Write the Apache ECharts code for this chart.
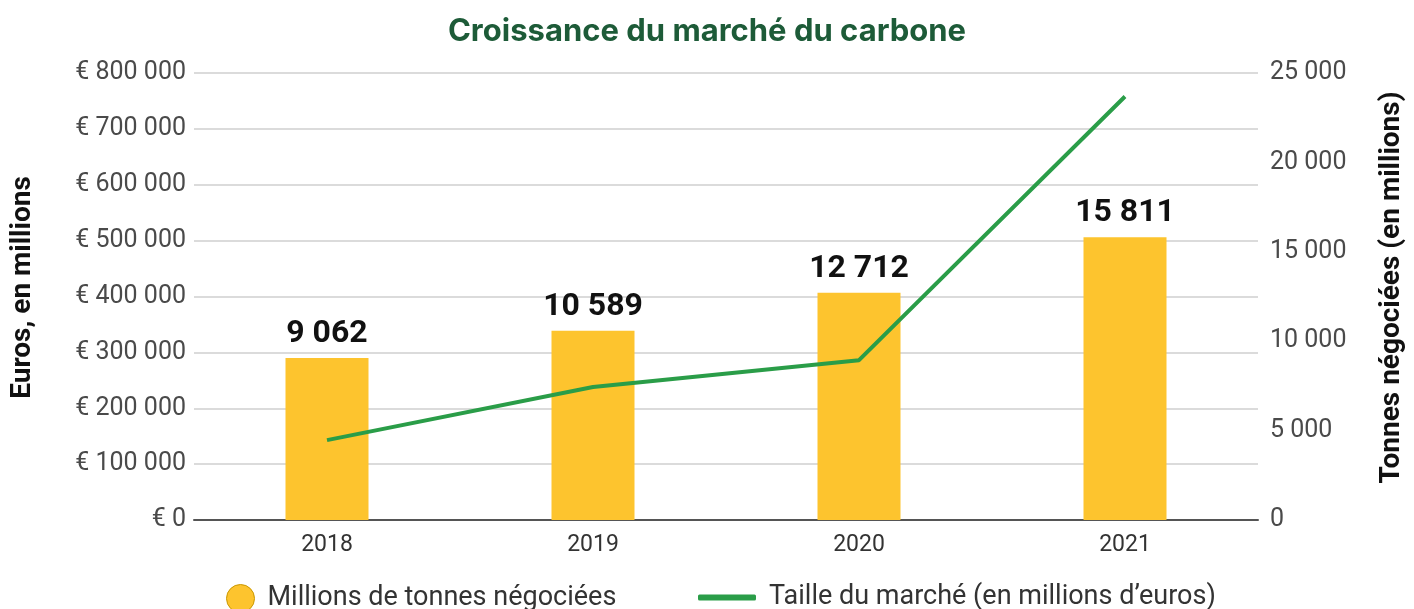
<!DOCTYPE html>
<html>
<head>
<meta charset="utf-8">
<script src="https://cdn.jsdelivr.net/npm/echarts@6/dist/echarts.min.js"></script>
<style>
  html, body { margin: 0; padding: 0; background: #fff; }
  #chart { width: 1414px; height: 609px; }
</style>
</head>
<body>
<div id="chart"></div>
<script>
// données
const annees = ['2018', '2019', '2020', '2021'];
const tonnes = [9062, 10589, 12712, 15811];          // millions de tonnes négociées
const taille = [143000, 238000, 286000, 758000];     // millions d'euros
const nomTonnes = 'Millions de tonnes négociées';
const nomTaille = 'Taille du marché (en millions d’euros)';

const police = 'Roboto, "Liberation Sans", sans-serif';

function espace(n) { // 800000 -> "800 000"
  return String(n).replace(/\B(?=(\d{3})+(?!\d))/g, ' ');
}

const chart = echarts.init(document.getElementById('chart'));
chart.setOption({
  animation: false,
  title: {
    text: 'Croissance du marché du carbone',
    left: 'center',
    top: 11,
    textStyle: { color: '#1d5b38', fontSize: 31, fontWeight: 'bold', fontFamily: 'Inter, "Open Sans", sans-serif' }
  },
  legend: [
    {
      left: 221, top: 579,
      itemWidth: 28, itemHeight: 28,
      icon: 'circle',
      textStyle: { fontSize: 27, color: '#333', fontFamily: police, padding: [0, 0, 0, 8] },
      data: [{ name: nomTonnes, itemStyle: { borderColor: '#c99700', borderWidth: 1 } }]
    },
    {
      left: 693, top: 579,
      itemWidth: 58, itemHeight: 6,
      icon: 'roundRect',
      textStyle: { fontSize: 27, color: '#333', fontFamily: police, padding: [0, 0, 0, 8] },
      data: [{ name: nomTaille, itemStyle: { color: '#2a9d48' } }]
    }
  ],
  grid: { left: 194, right: 155, top: 73, bottom: 89, containLabel: false },
  xAxis: {
    type: 'category',
    data: annees,
    axisTick: { show: false },
    axisLine: { lineStyle: { color: '#555', width: 2 } },
    axisLabel: { fontSize: 23, color: '#333', margin: 14, fontFamily: police }
  },
  yAxis: [
    {
      type: 'value',
      min: 0, max: 800000, interval: 100000,
      name: 'Euros, en millions',
      nameLocation: 'middle',
      nameRotate: 90,
      nameGap: 157,
      nameTextStyle: { fontSize: 28, fontWeight: 'bold', color: '#111', fontFamily: police, padding: [0, 0, 0, 18] },
      axisLine: { show: false },
      axisTick: { show: false },
      splitLine: { lineStyle: { color: '#cfcfcf', width: 1.5 } },
      axisLabel: { fontSize: 25, color: '#4a4a4a', margin: 8, fontFamily: police, formatter: v => '€ ' + espace(v) }
    },
    {
      type: 'value',
      min: 0, max: 25000, interval: 5000,
      position: 'right',
      name: 'Tonnes négociées (en millions)',
      nameLocation: 'middle',
      nameRotate: 90,
      nameGap: 120,
      nameTextStyle: { fontSize: 28, fontWeight: 'bold', color: '#111', fontFamily: police, padding: [0, 0, 0, 18] },
      axisLine: { show: false },
      axisTick: { show: false },
      splitLine: { show: false },
      axisLabel: { fontSize: 25, color: '#4a4a4a', margin: 12, fontFamily: police, formatter: v => espace(v) }
    }
  ],
  series: [
    {
      name: nomTonnes,
      type: 'bar',
      yAxisIndex: 1,
      data: tonnes,
      barWidth: 83,
      itemStyle: { color: '#fdc42e' },
      label: {
        show: true,
        position: 'top',
        distance: 8,
        fontSize: 32,
        fontWeight: 'bold',
        color: '#111',
        fontFamily: police,
        formatter: p => espace(p.value)
      }
    },
    {
      name: nomTaille,
      type: 'line',
      yAxisIndex: 0,
      data: taille,
      symbol: 'none',
      lineStyle: { color: '#2a9d48', width: 4 },
      itemStyle: { color: '#2a9d48' }
    }
  ]
});
</script>
</body>
</html>
